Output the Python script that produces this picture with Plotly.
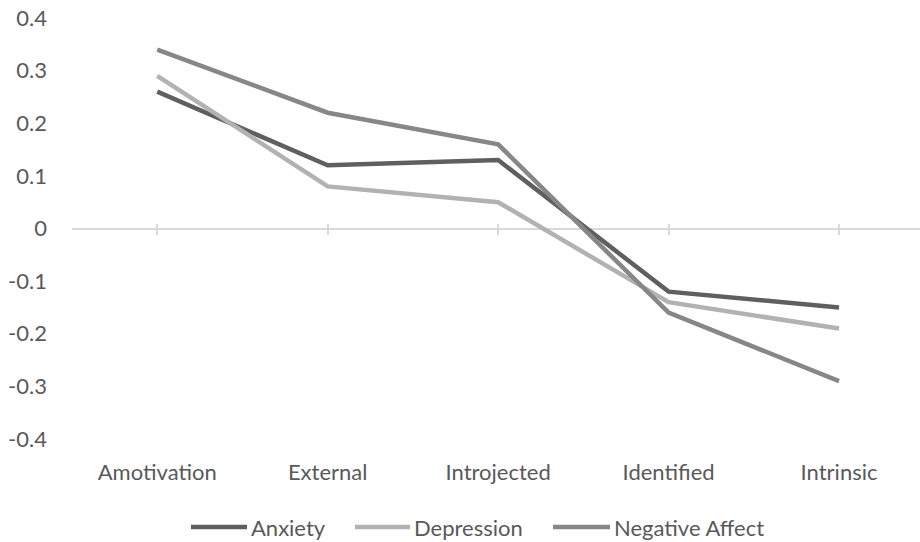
import plotly.graph_objects as go

categories = ["Amotivation", "External", "Introjected", "Identified", "Intrinsic"]
anxiety = [0.26, 0.12, 0.13, -0.12, -0.15]
depression = [0.29, 0.08, 0.05, -0.14, -0.19]
negative_affect = [0.34, 0.22, 0.16, -0.16, -0.29]
y_ticks = [0.4, 0.3, 0.2, 0.1, 0, -0.1, -0.2, -0.3, -0.4]
y_tick_text = ["0.4", "0.3", "0.2", "0.1", "0", "-0.1", "-0.2", "-0.3", "-0.4"]
series_names = ["Anxiety", "Depression", "Negative Affect"]

xs = list(range(len(categories)))
colors = ["#5f5f5f", "#b2b2b2", "#878787"]
series_vals = [anxiety, depression, negative_affect]

W, H = 920, 542
L, R, T, B = 72, 0, 18, 103
PW, PH = W - L - R, H - T - B

fig = go.Figure()
for name, vals, color in zip(series_names, series_vals, colors):
    fig.add_trace(go.Scatter(
        x=xs, y=vals, name=name, mode="lines",
        line=dict(color=color, width=4.5), showlegend=False,
    ))
# empty traces to activate tick-mark overlay axes
for ax in ["x2", "x3"]:
    fig.add_trace(go.Scatter(x=[0], y=[None], xaxis=ax, yaxis="y", mode="lines",
                             showlegend=False, hoverinfo="skip"))

font = dict(family="Lato, 'Open Sans', sans-serif", size=22, color="#595959")
xrange = [-0.5, 4.475]

# manual legend (pixel positions converted to paper coords)
def px(p):
    return (p - L) / PW

def py(p):
    return (H - B - p) / PH

legend_items = [(191, 247), (355, 410), (553, 610)]
leg_y = 527
shapes = []
annotations = []
for (x0, x1), name, color in zip(legend_items, series_names, colors):
    shapes.append(dict(type="line", xref="paper", yref="paper",
                       x0=px(x0), x1=px(x1), y0=py(leg_y), y1=py(leg_y),
                       line=dict(color=color, width=4.5)))
    annotations.append(dict(text=name, xref="paper", yref="paper",
                            x=px(x1 + 2), y=py(leg_y), xanchor="left", yanchor="middle",
                            showarrow=False, font=font))

fig.update_layout(
    width=W, height=H,
    margin=dict(l=L, r=R, t=T, b=B, autoexpand=False),
    paper_bgcolor="white", plot_bgcolor="white",
    font=font,
    showlegend=False,
    shapes=shapes,
    annotations=annotations,
    xaxis=dict(range=xrange, tickvals=xs, ticktext=categories, showgrid=False,
               zeroline=False, showline=False, ticks="", tickfont=font,
               automargin=False, ticklabelstandoff=18, ticklabeloverflow="allow"),
    xaxis2=dict(range=xrange, overlaying="x", anchor="free", position=0.5,
                tickvals=xs, showticklabels=False, showgrid=False, zeroline=False,
                showline=False, ticks="outside", ticklen=5, tickcolor="#d9d9d9",
                tickwidth=1.5, automargin=False),
    xaxis3=dict(range=xrange, overlaying="x", anchor="free", position=0.5, side="top",
                tickvals=xs, showticklabels=False, showgrid=False, zeroline=False,
                showline=False, ticks="outside", ticklen=5, tickcolor="#d9d9d9",
                tickwidth=1.5, automargin=False),
    yaxis=dict(range=[-0.4, 0.4], tickvals=y_ticks, ticktext=y_tick_text, showgrid=False,
               zeroline=True, zerolinecolor="#d9d9d9", zerolinewidth=1.5,
               showline=False, ticks="", tickfont=font, ticklabelstandoff=24,
               automargin=False, ticklabeloverflow="allow"),
)

fig.write_html("out.html", config={"displayModeBar": False},
               post_script="document.body.style.margin='0';")
